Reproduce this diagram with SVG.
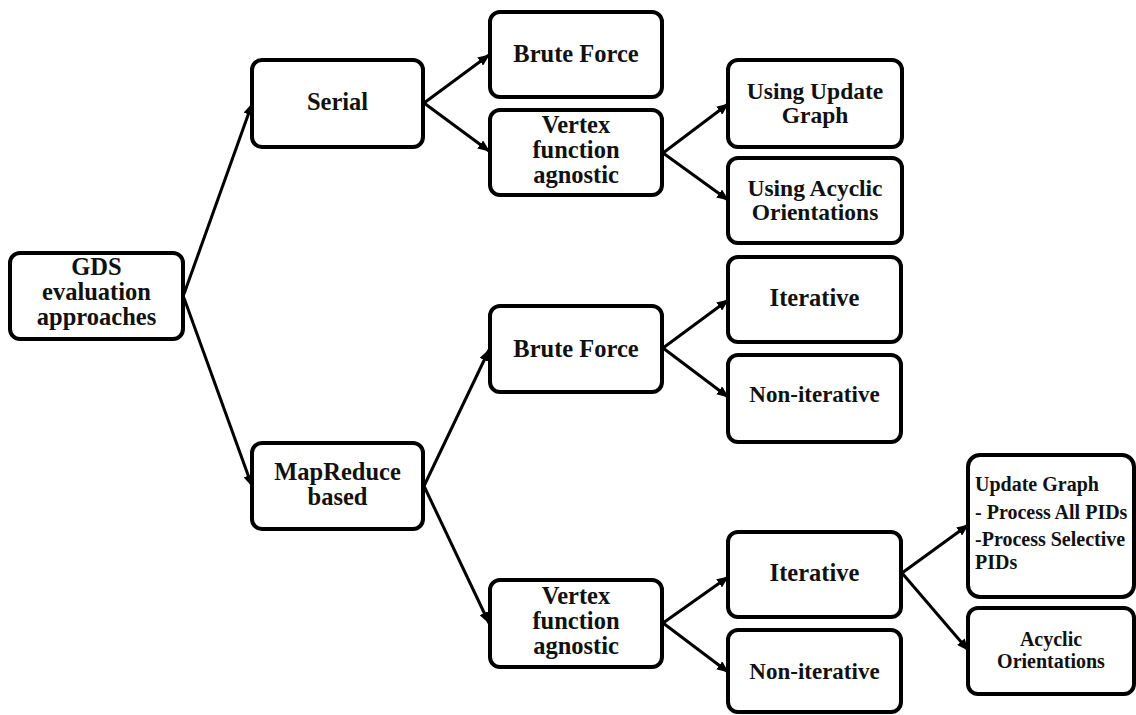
<svg xmlns="http://www.w3.org/2000/svg" width="1136" height="715" viewBox="0 0 1136 715">
<style>
.box{fill:#fff;stroke:#000;stroke-width:4}
.t{font-family:"Liberation Serif","Times New Roman",serif;font-weight:bold;font-size:24.5px;fill:#111;text-anchor:middle}
.n{font-size:23px}
.u{font-size:23.5px}
.s{font-family:"Liberation Serif","Times New Roman",serif;font-weight:bold;font-size:20px;fill:#111}
.c{stroke:#000;stroke-width:3;fill:none;marker-end:url(#ah)}
</style>
<defs>
<marker id="ah" markerWidth="12" markerHeight="10" refX="11" refY="5" orient="auto" markerUnits="userSpaceOnUse">
<path d="M0,0 L12,5 L0,10 Z" fill="#000"/>
</marker>
</defs>
<rect width="1136" height="715" fill="#fff"/>
<g id="connectors">
<line class="c" x1="184" y1="294" x2="252" y2="104"/>
<line class="c" x1="184" y1="298" x2="252" y2="486"/>
<line class="c" x1="424" y1="103" x2="489" y2="55"/>
<line class="c" x1="424" y1="103" x2="489" y2="151"/>
<line class="c" x1="663" y1="153" x2="728" y2="104"/>
<line class="c" x1="663" y1="153" x2="728" y2="200"/>
<line class="c" x1="424" y1="486" x2="489" y2="350"/>
<line class="c" x1="424" y1="486" x2="489" y2="623"/>
<line class="c" x1="663" y1="348" x2="728" y2="300"/>
<line class="c" x1="663" y1="348" x2="728" y2="397"/>
<line class="c" x1="663" y1="623" x2="728" y2="577"/>
<line class="c" x1="663" y1="623" x2="728" y2="672"/>
<line class="c" x1="902" y1="573" x2="968" y2="525"/>
<line class="c" x1="902" y1="573" x2="968" y2="650"/>
</g>
<g id="gds">
<rect class="box" x="10" y="253" width="173" height="86" rx="10"/>
<text class="t" x="96.5" y="275">GDS</text>
<text class="t" x="96.5" y="300">evaluation</text>
<text class="t" x="96.5" y="325">approaches</text>
</g>
<g id="serial">
<rect class="box" x="252" y="60" width="171" height="87" rx="10"/>
<text class="t" x="337.5" y="110">Serial</text>
</g>
<g id="mapreduce">
<rect class="box" x="252" y="443" width="171" height="86" rx="10"/>
<text class="t" x="337.5" y="480">MapReduce</text>
<text class="t" x="337.5" y="505">based</text>
</g>
<g id="bf1">
<rect class="box" x="490" y="12" width="172" height="85" rx="10"/>
<text class="t" x="576" y="62">Brute Force</text>
</g>
<g id="vfa1">
<rect class="box" x="490" y="110" width="172" height="85" rx="10"/>
<text class="t" x="576" y="133">Vertex</text>
<text class="t" x="576" y="158">function</text>
<text class="t" x="576" y="183">agnostic</text>
</g>
<g id="bf2">
<rect class="box" x="490" y="306" width="172" height="86" rx="10"/>
<text class="t" x="576" y="357">Brute Force</text>
</g>
<g id="vfa2">
<rect class="box" x="490" y="580" width="172" height="87" rx="10"/>
<text class="t" x="576" y="604">Vertex</text>
<text class="t" x="576" y="629">function</text>
<text class="t" x="576" y="654">agnostic</text>
</g>
<g id="uug">
<rect class="box" x="728" y="60" width="174" height="87" rx="10"/>
<text class="t u" x="815" y="99">Using Update</text>
<text class="t u" x="815" y="123">Graph</text>
</g>
<g id="uao">
<rect class="box" x="728" y="158" width="174" height="85" rx="10"/>
<text class="t u" x="815" y="196">Using Acyclic</text>
<text class="t u" x="815" y="220">Orientations</text>
</g>
<g id="it1">
<rect class="box" x="728" y="257" width="173" height="85" rx="10"/>
<text class="t" x="814.5" y="306">Iterative</text>
</g>
<g id="nit1">
<rect class="box" x="728" y="355" width="173" height="87" rx="10"/>
<text class="t n" x="814.5" y="402">Non-iterative</text>
</g>
<g id="it2">
<rect class="box" x="728" y="532" width="173" height="85" rx="10"/>
<text class="t" x="814.5" y="581">Iterative</text>
</g>
<g id="nit2">
<rect class="box" x="728" y="630" width="173" height="82" rx="10"/>
<text class="t n" x="814.5" y="679">Non-iterative</text>
</g>
<g id="ug">
<rect class="box" x="968" y="455" width="166" height="142" rx="12"/>
<text class="s" x="975" y="491">Update Graph</text>
<text class="s" x="975" y="519">- Process All PIDs</text>
<text class="s" x="975" y="546">-Process Selective</text>
<text class="s" x="975" y="569">PIDs</text>
</g>
<g id="ao">
<rect class="box" x="968" y="608" width="166" height="86" rx="10"/>
<text class="s" x="1051" y="646" text-anchor="middle">Acyclic</text>
<text class="s" x="1051" y="668" text-anchor="middle">Orientations</text>
</g>
</svg>
